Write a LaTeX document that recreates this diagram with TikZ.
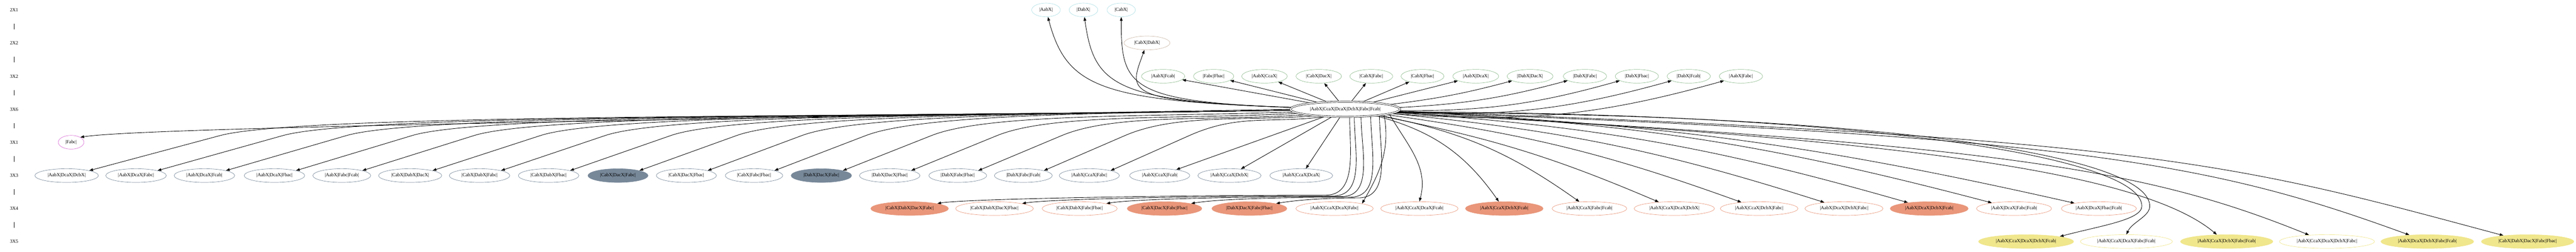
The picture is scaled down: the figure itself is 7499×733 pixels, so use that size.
\documentclass[tikz,border=0pt]{standalone}
\usepackage{fontspec}
\setmainfont{Liberation Serif}
\usetikzlibrary{shapes.geometric,arrows.meta,backgrounds}
\definecolor{powder}{RGB}{176,224,230}
\definecolor{tanline}{RGB}{205,186,170}
\definecolor{dseagreen}{RGB}{143,188,143}
\definecolor{orchidline}{RGB}{218,112,214}
\definecolor{slate}{RGB}{119,136,153}
\definecolor{dsalmon}{RGB}{233,150,122}
\definecolor{khakiline}{RGB}{240,230,140}

\begin{document}
\begin{tikzpicture}[x=0.1pt, y=-0.1pt,
  lab/.style={font=\fontsize{1.4pt}{1.6pt}\selectfont, minimum height=4.8pt},
  gv/.style={ellipse, draw, line width=0.1pt, fill=white, inner xsep=1pt, inner ysep=0.3pt, minimum height=4pt, font=\fontsize{1.4pt}{1.6pt}\selectfont},
  lone/.style={gv, draw=powder},
  pair/.style={gv, draw=tanline},
  duo/.style={gv, draw=dseagreen},
  hubnode/.style={gv, double, double distance=0.3pt, minimum height=4.4pt},
  solo/.style={gv, draw=orchidline},
  trio/.style={gv, draw=slate},
  trioF/.style={trio, fill=slate},
  quad/.style={gv, draw=dsalmon},
  quadF/.style={quad, fill=dsalmon},
  quint/.style={gv, draw=khakiline},
  quintF/.style={quint, fill=khakiline},
  conn/.style={line width=0.13pt, -{Triangle[length=1.1pt,width=0.8pt]}}]
\useasboundingbox (0,0) rectangle (7499,733);

%%Ranks
\node[lab] (r21) at (41,29) {2X1};
\node[lab] (r22) at (41,125) {2X2};
\node[lab] (r32) at (41,222) {3X2};
\node[lab] (r36) at (41,318) {3X6};
\node[lab] (r31) at (41,414) {3X1};
\node[lab] (r33) at (41,511) {3X3};
\node[lab] (r34) at (41,607) {3X4};
\node[lab] (r35) at (41,703) {3X5};
\draw[line width=0.12pt] (r21) -- (r22);
\draw[line width=0.12pt] (r22) -- (r32);
\draw[line width=0.12pt] (r32) -- (r36);
\draw[line width=0.12pt] (r36) -- (r31);
\draw[line width=0.12pt] (r31) -- (r33);
\draw[line width=0.12pt] (r33) -- (r34);
\draw[line width=0.12pt] (r34) -- (r35);

%%2X1 and 2X2
\node[lone] (AabX) at (3045,29) {|AabX|};
\node[lone] (DabX) at (3154,29) {|DabX|};
\node[lone] (CabX) at (3264,29) {|CabX|};
\node[pair] (CabXDabX) at (3339,125) {|CabX|DabX|};

%%3X2
\node[duo] (AabXFcab) at (3386,222) {|AabX|Fcab|};
\node[duo] (FabcFbac) at (3533,222) {|Fabc|Fbac|};
\node[duo] (AabXCcaX) at (3681,222) {|AabX|CcaX|};
\node[duo] (CabXDacX) at (3839,222) {|CabX|DacX|};
\node[duo] (CabXFabc) at (3992,222) {|CabX|Fabc|};
\node[duo] (CabXFbac) at (4141,222) {|CabX|Fbac|};
\node[duo] (AabXDcaX) at (4296,222) {|AabX|DcaX|};
\node[duo] (DabXDacX) at (4454,222) {|DabX|DacX|};
\node[duo] (DabXFabc) at (4614,222) {|DabX|Fabc|};
\node[duo] (DabXFbac) at (4765,222) {|DabX|Fbac|};
\node[duo] (DabXFcab) at (4916,222) {|DabX|Fcab|};
\node[duo] (AabXFabc) at (5068,222) {|AabX|Fabc|};

%%3X6
\node[hubnode] (hub) at (3916,318) {|AabX|CcaX|DcaX|DcbX|Fabc|Fcab|};

%%3X1
\node[solo] (Fabc) at (207,414) {|Fabc|};

%%3X3
\node[trio] (AabXDcaXDcbX) at (194,511) {|AabX|DcaX|DcbX|};
\node[trio] (AabXDcaXFabc) at (396,511) {|AabX|DcaX|Fabc|};
\node[trio] (AabXDcaXFcab) at (595,511) {|AabX|DcaX|Fcab|};
\node[trio] (AabXDcaXFbac) at (799,511) {|AabX|DcaX|Fbac|};
\node[trio] (AabXFabcFcab) at (995,511) {|AabX|Fabc|Fcab|};
\node[trio] (CabXDabXDacX) at (1194,511) {|CabX|DabX|DacX|};
\node[trio] (CabXDabXFabc) at (1396,511) {|CabX|DabX|Fabc|};
\node[trio] (CabXDabXFbac) at (1597,511) {|CabX|DabX|Fbac|};
\node[trioF] (CabXDacXFabc) at (1799,511) {|CabX|DacX|Fabc|};
\node[trio] (CabXDacXFbac) at (1998,511) {|CabX|DacX|Fbac|};
\node[trio] (CabXFabcFbac) at (2195,511) {|CabX|Fabc|Fbac|};
\node[trioF] (DabXDacXFabc) at (2391,511) {|DabX|DacX|Fabc|};
\node[trio] (DabXDacXFbac) at (2590,511) {|DabX|DacX|Fbac|};
\node[trio] (DabXFabcFbac) at (2788,511) {|DabX|Fabc|Fbac|};
\node[trio] (DabXFabcFcab) at (2979,511) {|DabX|Fabc|Fcab|};
\node[trio] (AabXCcaXFabc) at (3171,511) {|AabX|CcaX|Fabc|};
\node[trio] (AabXCcaXFcab) at (3376,511) {|AabX|CcaX|Fcab|};
\node[trio] (AabXCcaXDcbX) at (3579,511) {|AabX|CcaX|DcbX|};
\node[trio] (AabXCcaXDcaX) at (3788,511) {|AabX|CcaX|DcaX|};

%%3X4
\node[quadF] (CabXDabXDacXFabc) at (2648,607) {|CabX|DabX|DacX|Fabc|};
\node[quad] (CabXDabXDacXFbac) at (2895,607) {|CabX|DabX|DacX|Fbac|};
\node[quad] (CabXDabXFabcFbac) at (3143,607) {|CabX|DabX|Fabc|Fbac|};
\node[quadF] (CabXDacXFabcFbac) at (3390,607) {|CabX|DacX|Fabc|Fbac|};
\node[quadF] (DabXDacXFabcFbac) at (3637,607) {|DabX|DacX|Fabc|Fbac|};
\node[quad] (AabXCcaXDcaXFabc) at (3885,607) {|AabX|CcaX|DcaX|Fabc|};
\node[quad] (AabXCcaXDcaXFcab) at (4132,607) {|AabX|CcaX|DcaX|Fcab|};
\node[quadF] (AabXCcaXDcbXFcab) at (4379,607) {|AabX|CcaX|DcbX|Fcab|};
\node[quad] (AabXCcaXFabcFcab) at (4627,607) {|AabX|CcaX|Fabc|Fcab|};
\node[quad] (AabXCcaXDcaXDcbX) at (4874,607) {|AabX|CcaX|DcaX|DcbX|};
\node[quad] (AabXCcaXDcbXFabc) at (5121,607) {|AabX|CcaX|DcbX|Fabc|};
\node[quad] (AabXDcaXDcbXFabc) at (5368,607) {|AabX|DcaX|DcbX|Fabc|};
\node[quadF] (AabXDcaXDcbXFcab) at (5616,607) {|AabX|DcaX|DcbX|Fcab|};
\node[quad] (AabXDcaXFabcFcab) at (5863,607) {|AabX|DcaX|Fabc|Fcab|};
\node[quad] (AabXDcaXFbacFcab) at (6110,607) {|AabX|DcaX|Fbac|Fcab|};

%%3X5
\node[quintF] (AabXCcaXDcaXDcbXFcab) at (5898,703) {|AabX|CcaX|DcaX|DcbX|Fcab|};
\node[quint] (AabXCcaXDcaXFabcFcab) at (6190,703) {|AabX|CcaX|DcaX|Fabc|Fcab|};
\node[quintF] (AabXCcaXDcbXFabcFcab) at (6482,703) {|AabX|CcaX|DcbX|Fabc|Fcab|};
\node[quint] (AabXCcaXDcaXDcbXFabc) at (6774,703) {|AabX|CcaX|DcaX|DcbX|Fabc|};
\node[quintF] (AabXDcaXDcbXFabcFcab) at (7066,703) {|AabX|DcaX|DcbX|Fabc|Fcab|};
\node[quintF] (CabXDabXDacXFabcFbac) at (7358,703) {|CabX|DabX|DacX|Fabc|Fbac|};

\coordinate (k0) at (3859,568);
\coordinate (k1) at (3882,570);
\coordinate (k2) at (3906,572);
\coordinate (k3) at (3930,574);
\coordinate (k4) at (3954,576);
\coordinate (w0) at (6235,600);
\coordinate (w1) at (6258,600);

\begin{scope}[on background layer]
%%Up
\draw[conn] (hub) to[out=178,in=-75,out distance=56pt,in distance=21.2pt] (AabX);
\draw[conn] (hub) to[out=178,in=-82,out distance=52pt,in distance=20pt] (DabX);
\draw[conn] (hub) to[out=178,in=-90,out distance=48pt,in distance=20pt] (CabX);
\draw[conn] (hub) to[out=178,in=-110,out distance=50pt,in distance=13pt] (CabXDabX.-110);
\draw[conn] (hub) -- (AabXFcab);
\draw[conn] (hub) -- (FabcFbac);
\draw[conn] (hub) -- (AabXCcaX);
\draw[conn] (hub) -- (CabXDacX);
\draw[conn] (hub) -- (CabXFabc);
\draw[conn] (hub) -- (CabXFbac);
\draw[conn] (hub) -- (AabXDcaX);
\draw[conn] (hub) to[bend right=4] (DabXDacX);
\draw[conn] (hub) to[bend right=6] (DabXFabc);
\draw[conn] (hub) to[bend right=8] (DabXFbac);
\draw[conn] (hub) to[bend right=9] (DabXFcab);
\draw[conn] (hub) to[bend right=10] (AabXFabc);

%%Left, down
\draw[conn] (hub.180) to[out=181,in=9,out distance=140pt,in distance=20pt] (Fabc.north east);
\draw[conn] (hub.181) to[out=181,in=15,out distance=124.5pt,in distance=25.1pt] ([shift={(381,-102)}]AabXDcaXDcbX.north east) -- (AabXDcaXDcbX.north east);
\draw[conn] (hub.181) to[out=181,in=15.6,out distance=117.1pt,in distance=24.2pt] ([shift={(365,-102)}]AabXDcaXFabc.north east) -- (AabXDcaXFabc.north east);
\draw[conn] (hub.181) to[out=181,in=16.2,out distance=109.7pt,in distance=23.3pt] ([shift={(351,-102)}]AabXDcaXFcab.north east) -- (AabXDcaXFcab.north east);
\draw[conn] (hub.181) to[out=181,in=16.8,out distance=102pt,in distance=22.5pt] ([shift={(338,-102)}]AabXDcaXFbac.north east) -- (AabXDcaXFbac.north east);
\draw[conn] (hub.181) to[out=181,in=17.4,out distance=94.7pt,in distance=21.7pt] ([shift={(325,-102)}]AabXFabcFcab.north east) -- (AabXFabcFcab.north east);
\draw[conn] (hub.181) to[out=181,in=18,out distance=87.2pt,in distance=21pt] ([shift={(314,-102)}]CabXDabXDacX.north east) -- (CabXDabXDacX.north east);
\draw[conn] (hub.181) to[out=181,in=18.6,out distance=79.6pt,in distance=20.4pt] ([shift={(303,-102)}]CabXDabXFabc.north east) -- (CabXDabXFabc.north east);
\draw[conn] (hub.181) to[out=181,in=19.2,out distance=71.9pt,in distance=19.8pt] ([shift={(293,-102)}]CabXDabXFbac.north east) -- (CabXDabXFbac.north east);
\draw[conn] (hub.181) to[out=181,in=19.8,out distance=64.2pt,in distance=19.2pt] ([shift={(283,-102)}]CabXDacXFabc.north east) -- (CabXDacXFabc.north east);
\draw[conn] (hub.181) to[out=181,in=20.4,out distance=56.6pt,in distance=18.6pt] ([shift={(274,-102)}]CabXDacXFbac.north east) -- (CabXDacXFbac.north east);
\draw[conn] (hub.181) to[out=181,in=21,out distance=49.1pt,in distance=18.1pt] ([shift={(266,-102)}]CabXFabcFbac.north east) -- (CabXFabcFbac.north east);
\draw[conn] (hub.183) to[out=182,in=21.6,out distance=41.6pt,in distance=17.7pt] ([shift={(258,-102)}]DabXDacXFabc.north east) -- (DabXDacXFabc.north east);
\draw[conn] (hub.185) to[out=183,in=22.2,out distance=33.9pt,in distance=17.2pt] ([shift={(250,-102)}]DabXDacXFbac.north east) -- (DabXDacXFbac.north east);
\draw[conn] (hub.188) to[out=184,in=22.8,out distance=26.3pt,in distance=16.8pt] ([shift={(243,-102)}]DabXFabcFbac.north east) -- (DabXFabcFbac.north east);
\draw[conn] (hub.192) to[out=185,in=23.4,out distance=18.9pt,in distance=16.4pt] ([shift={(236,-102)}]DabXFabcFcab.north east) -- (DabXFabcFcab.north east);
\draw[conn] (hub.200) to[out=188,in=24,out distance=15.7pt,in distance=16pt] ([shift={(229,-102)}]AabXCcaXFabc.north east) -- (AabXCcaXFabc.north east);
\draw[conn] (hub) -- (AabXCcaXFcab);
\draw[conn] (hub) -- (AabXCcaXDcbX);
\draw[conn] (hub) -- (AabXCcaXDcaX);

%%Down
\draw[conn] (hub.-60) to[out=-90,in=0] (k0) to[out=180,in=10,in distance=8pt] (CabXDabXDacXFabc.north east);
\draw[conn] (hub.-40) to[out=-90,in=0] (k1) to[out=180,in=10,in distance=8pt] (CabXDabXDacXFbac.north east);
\draw[conn] (hub.-25) to[out=-90,in=0] (k2) to[out=180,in=10,in distance=8pt] (CabXDabXFabcFbac.north east);
\draw[conn] (hub.-15) to[out=-90,in=0] (k3) to[out=180,in=10,in distance=8pt] (CabXDacXFabcFbac.north east);
\draw[conn] (hub.-10) to[out=-90,in=0] (k4) to[out=180,in=10,in distance=6pt] (DabXDacXFabcFbac.north east);
\draw[conn] (hub.-8) to[out=-80,in=60] (AabXCcaXDcaXFabc.north east);
\draw[conn] (hub.-6) to[out=-60,in=75] (AabXCcaXDcaXFcab.north);
\draw[conn] (hub) to[bend left=20] (AabXCcaXDcbXFcab);
\draw[conn] (hub) to[bend left=12] (AabXCcaXFabcFcab);
\draw[conn] (hub) to[bend left=6] (AabXCcaXDcaXDcbX);
\draw[conn] (hub) to[bend left=6] (AabXCcaXDcbXFabc);
\draw[conn] (hub) to[bend left=6] (AabXDcaXDcbXFabc);
\draw[conn] (hub) to[bend left=6] (AabXDcaXDcbXFcab);
\draw[conn] (hub) to[bend left=6] (AabXDcaXFabcFcab);
\draw[conn] (hub) to[bend left=5] (AabXDcaXFbacFcab);

%%Right, down
\draw[conn] (hub.-3) to[out=0,in=90,out distance=130pt,in distance=15pt] (w0) to[out=-90,in=15,out distance=4pt,in distance=12pt] (AabXCcaXDcaXDcbXFcab.north east);
\draw[conn] (hub.-4) to[out=0,in=90,out distance=140pt,in distance=15pt] (w1) to[out=-90,in=65,out distance=3pt,in distance=4pt] (AabXCcaXDcaXFabcFcab.north);
\draw[conn] (hub.-4) to[out=-3,in=140,out distance=140pt,in distance=30pt] (AabXCcaXDcbXFabcFcab.145);
\draw[conn] (hub.-4) to[out=-3,in=158,out distance=180pt,in distance=50pt] (AabXCcaXDcaXDcbXFabc.160);
\draw[conn] (hub.-3) to[out=-2,in=160,out distance=200pt,in distance=60pt] (AabXDcaXDcbXFabcFcab.160);
\draw[conn] (hub.-2) to[out=-2,in=165,out distance=220pt,in distance=80pt] (CabXDabXDacXFabcFbac.166);
\end{scope}

\end{tikzpicture}
\end{document}
